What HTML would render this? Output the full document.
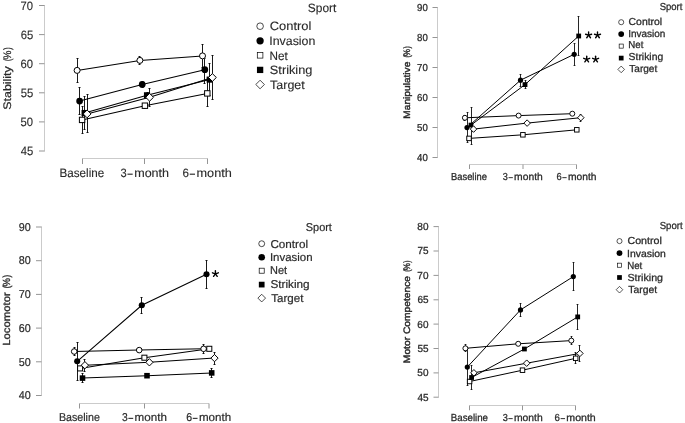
<!DOCTYPE html>
<html><head><meta charset="utf-8"><style>
html,body{margin:0;padding:0;background:#fff;}
svg{display:block;will-change:transform;}
text{font-family:"Liberation Sans", sans-serif;text-rendering:geometricPrecision;stroke:#2a2a2a;}
</style></head><body>
<svg width="685" height="423" viewBox="0 0 685 423">
<line x1="44.5" y1="5" x2="44.5" y2="151.5" stroke="#cbcbcb" stroke-width="1"/>
<line x1="39.0" y1="5.5" x2="44.5" y2="5.5" stroke="#959595" stroke-width="1"/>
<text x="20.62" y="10" font-size="12.1" textLength="12.52" lengthAdjust="spacingAndGlyphs" fill="#2a2a2a" stroke-width="0.12">70</text>
<line x1="39.0" y1="34.6" x2="44.5" y2="34.6" stroke="#959595" stroke-width="1"/>
<text x="20.66" y="39" font-size="12.1" textLength="12.51" lengthAdjust="spacingAndGlyphs" fill="#2a2a2a" stroke-width="0.12">65</text>
<line x1="39.0" y1="63.7" x2="44.5" y2="63.7" stroke="#959595" stroke-width="1"/>
<text x="20.62" y="68" font-size="12.1" textLength="12.52" lengthAdjust="spacingAndGlyphs" fill="#2a2a2a" stroke-width="0.12">60</text>
<line x1="39.0" y1="92.8" x2="44.5" y2="92.8" stroke="#959595" stroke-width="1"/>
<text x="20.65" y="97" font-size="12.1" textLength="12.52" lengthAdjust="spacingAndGlyphs" fill="#2a2a2a" stroke-width="0.12">55</text>
<line x1="39.0" y1="121.9" x2="44.5" y2="121.9" stroke="#959595" stroke-width="1"/>
<text x="20.61" y="126" font-size="12.1" textLength="12.53" lengthAdjust="spacingAndGlyphs" fill="#2a2a2a" stroke-width="0.12">50</text>
<line x1="39.0" y1="151.0" x2="44.5" y2="151.0" stroke="#959595" stroke-width="1"/>
<text x="20.63" y="155" font-size="12.1" textLength="12.54" lengthAdjust="spacingAndGlyphs" fill="#2a2a2a" stroke-width="0.12">45</text>
<line x1="82.5" y1="158.5" x2="207.5" y2="158.5" stroke="#cbcbcb" stroke-width="1"/>
<line x1="82.5" y1="158.5" x2="82.5" y2="164.0" stroke="#959595" stroke-width="1"/>
<line x1="144.5" y1="158.5" x2="144.5" y2="164.0" stroke="#959595" stroke-width="1"/>
<line x1="207.5" y1="158.5" x2="207.5" y2="164.0" stroke="#959595" stroke-width="1"/>
<text x="59.54" y="177" font-size="12.1" textLength="44.67" lengthAdjust="spacingAndGlyphs" fill="#2a2a2a" stroke-width="0.12">Baseline</text>
<text x="120.47" y="177" font-size="12.1" textLength="6.22" lengthAdjust="spacingAndGlyphs" fill="#2a2a2a" stroke-width="0.12">3</text>
<text x="134.16" y="177" font-size="12.1" textLength="34.95" lengthAdjust="spacingAndGlyphs" fill="#2a2a2a" stroke-width="0.12">month</text>
<rect x="127.46" y="173.62" width="5.22" height="1.15" fill="#2a2a2a"/>
<text x="182.51" y="177" font-size="12.1" textLength="6.46" lengthAdjust="spacingAndGlyphs" fill="#2a2a2a" stroke-width="0.12">6</text>
<text x="196.51" y="177" font-size="12.1" textLength="35.32" lengthAdjust="spacingAndGlyphs" fill="#2a2a2a" stroke-width="0.12">month</text>
<rect x="189.73" y="173.62" width="5.27" height="1.15" fill="#2a2a2a"/>
<text x="0" y="0" transform="translate(10.6,109.76) rotate(-90)" font-size="10.9" textLength="43.49" lengthAdjust="spacingAndGlyphs" fill="#2a2a2a" stroke-width="0.24">Stability</text>
<text x="0" y="0" transform="translate(10.6,61.32) rotate(-90)" font-size="10.9" textLength="2.81" lengthAdjust="spacingAndGlyphs" fill="#2a2a2a" stroke-width="0.24">(</text>
<text x="0" y="0" transform="translate(10.6,59.48) rotate(-90)" font-size="10.9" textLength="8.88" lengthAdjust="spacingAndGlyphs" fill="#2a2a2a" stroke-width="0.24">%</text>
<text x="0" y="0" transform="translate(10.6,49.89) rotate(-90)" font-size="10.9" textLength="2.81" lengthAdjust="spacingAndGlyphs" fill="#2a2a2a" stroke-width="0.24">)</text>
<text x="307.86" y="12" font-size="12.1" textLength="28.53" lengthAdjust="spacingAndGlyphs" fill="#2a2a2a" stroke-width="0.12">Sport</text>
<circle cx="260.1" cy="26.2" r="3.3" fill="#fff" stroke="#000" stroke-width="0.7"/>
<text x="269.74" y="30" font-size="12.1" textLength="41.62" lengthAdjust="spacingAndGlyphs" fill="#2a2a2a" stroke-width="0.12">Control</text>
<circle cx="260.1" cy="40.8" r="3.65" fill="#000"/>
<text x="269.26" y="45" font-size="12.1" textLength="46.15" lengthAdjust="spacingAndGlyphs" fill="#2a2a2a" stroke-width="0.12">Invasion</text>
<rect x="257.3" y="52.5" width="5.6" height="5.6" fill="#fff" stroke="#000" stroke-width="0.7"/>
<text x="269.44" y="60" font-size="12.1" textLength="18.25" lengthAdjust="spacingAndGlyphs" fill="#2a2a2a" stroke-width="0.12">Net</text>
<rect x="256.95" y="66.75" width="6.31" height="6.31" fill="#000"/>
<text x="269.82" y="74" font-size="12.1" textLength="42.6" lengthAdjust="spacingAndGlyphs" fill="#2a2a2a" stroke-width="0.12">Striking</text>
<polygon points="260.1,80.21 264.39,84.5 260.1,88.79 255.81,84.5" fill="#fff" stroke="#000" stroke-width="0.7"/>
<text x="270.13" y="89" font-size="12.1" textLength="34.66" lengthAdjust="spacingAndGlyphs" fill="#2a2a2a" stroke-width="0.12">Target</text>
<polyline points="77.1,70.4 139.9,60.4 202.5,55.9" fill="none" stroke="#000" stroke-width="1.05"/>
<polyline points="79.6,101.1 142.2,84.4 204.8,69.7" fill="none" stroke="#000" stroke-width="1.05"/>
<polyline points="82.1,119.9 144.9,105.7 207.3,93.4" fill="none" stroke="#000" stroke-width="1.05"/>
<polyline points="84.6,113.0 147.0,95.3 209.7,79.6" fill="none" stroke="#000" stroke-width="1.05"/>
<polyline points="87.1,113.9 149.6,97.3 212.4,77.5" fill="none" stroke="#000" stroke-width="1.05"/>
<line x1="77.5" y1="58.5" x2="77.5" y2="82.5" stroke="#000" stroke-width="0.9"/>
<line x1="76.5" y1="58.5" x2="78.5" y2="58.5" stroke="#000" stroke-width="0.9"/>
<line x1="76.5" y1="82.5" x2="78.5" y2="82.5" stroke="#000" stroke-width="0.9"/>
<line x1="139.5" y1="56.5" x2="139.5" y2="64.5" stroke="#000" stroke-width="0.9"/>
<line x1="138.5" y1="56.5" x2="140.5" y2="56.5" stroke="#000" stroke-width="0.9"/>
<line x1="138.5" y1="64.5" x2="140.5" y2="64.5" stroke="#000" stroke-width="0.9"/>
<line x1="202.5" y1="44.5" x2="202.5" y2="67.5" stroke="#000" stroke-width="0.9"/>
<line x1="201.5" y1="44.5" x2="203.5" y2="44.5" stroke="#000" stroke-width="0.9"/>
<line x1="201.5" y1="67.5" x2="203.5" y2="67.5" stroke="#000" stroke-width="0.9"/>
<line x1="79.5" y1="87.5" x2="79.5" y2="114.5" stroke="#000" stroke-width="0.9"/>
<line x1="78.5" y1="87.5" x2="80.5" y2="87.5" stroke="#000" stroke-width="0.9"/>
<line x1="78.5" y1="114.5" x2="80.5" y2="114.5" stroke="#000" stroke-width="0.9"/>
<line x1="142.5" y1="81.5" x2="142.5" y2="87.5" stroke="#000" stroke-width="0.9"/>
<line x1="141.5" y1="81.5" x2="143.5" y2="81.5" stroke="#000" stroke-width="0.9"/>
<line x1="141.5" y1="87.5" x2="143.5" y2="87.5" stroke="#000" stroke-width="0.9"/>
<line x1="204.5" y1="58.5" x2="204.5" y2="83.5" stroke="#000" stroke-width="0.9"/>
<line x1="203.5" y1="58.5" x2="205.5" y2="58.5" stroke="#000" stroke-width="0.9"/>
<line x1="203.5" y1="83.5" x2="205.5" y2="83.5" stroke="#000" stroke-width="0.9"/>
<line x1="82.5" y1="106.5" x2="82.5" y2="133.5" stroke="#000" stroke-width="0.9"/>
<line x1="81.5" y1="106.5" x2="83.5" y2="106.5" stroke="#000" stroke-width="0.9"/>
<line x1="81.5" y1="133.5" x2="83.5" y2="133.5" stroke="#000" stroke-width="0.9"/>
<line x1="144.5" y1="103.5" x2="144.5" y2="108.5" stroke="#000" stroke-width="0.9"/>
<line x1="143.5" y1="103.5" x2="145.5" y2="103.5" stroke="#000" stroke-width="0.9"/>
<line x1="143.5" y1="108.5" x2="145.5" y2="108.5" stroke="#000" stroke-width="0.9"/>
<line x1="207.5" y1="80.5" x2="207.5" y2="106.5" stroke="#000" stroke-width="0.9"/>
<line x1="206.5" y1="80.5" x2="208.5" y2="80.5" stroke="#000" stroke-width="0.9"/>
<line x1="206.5" y1="106.5" x2="208.5" y2="106.5" stroke="#000" stroke-width="0.9"/>
<line x1="84.5" y1="96.5" x2="84.5" y2="129.5" stroke="#000" stroke-width="0.9"/>
<line x1="83.5" y1="96.5" x2="85.5" y2="96.5" stroke="#000" stroke-width="0.9"/>
<line x1="83.5" y1="129.5" x2="85.5" y2="129.5" stroke="#000" stroke-width="0.9"/>
<line x1="147.5" y1="92.5" x2="147.5" y2="97.5" stroke="#000" stroke-width="0.9"/>
<line x1="146.5" y1="92.5" x2="148.5" y2="92.5" stroke="#000" stroke-width="0.9"/>
<line x1="146.5" y1="97.5" x2="148.5" y2="97.5" stroke="#000" stroke-width="0.9"/>
<line x1="209.5" y1="63.5" x2="209.5" y2="95.5" stroke="#000" stroke-width="0.9"/>
<line x1="208.5" y1="63.5" x2="210.5" y2="63.5" stroke="#000" stroke-width="0.9"/>
<line x1="208.5" y1="95.5" x2="210.5" y2="95.5" stroke="#000" stroke-width="0.9"/>
<line x1="87.5" y1="94.5" x2="87.5" y2="132.5" stroke="#000" stroke-width="0.9"/>
<line x1="86.5" y1="94.5" x2="88.5" y2="94.5" stroke="#000" stroke-width="0.9"/>
<line x1="86.5" y1="132.5" x2="88.5" y2="132.5" stroke="#000" stroke-width="0.9"/>
<line x1="149.5" y1="88.5" x2="149.5" y2="106.5" stroke="#000" stroke-width="0.9"/>
<line x1="148.5" y1="88.5" x2="150.5" y2="88.5" stroke="#000" stroke-width="0.9"/>
<line x1="148.5" y1="106.5" x2="150.5" y2="106.5" stroke="#000" stroke-width="0.9"/>
<line x1="212.5" y1="55.5" x2="212.5" y2="99.5" stroke="#000" stroke-width="0.9"/>
<line x1="211.5" y1="55.5" x2="213.5" y2="55.5" stroke="#000" stroke-width="0.9"/>
<line x1="211.5" y1="99.5" x2="213.5" y2="99.5" stroke="#000" stroke-width="0.9"/>
<circle cx="77.1" cy="70.4" r="3.0" fill="#fff" stroke="#000" stroke-width="1.0"/>
<circle cx="139.9" cy="60.4" r="3.0" fill="#fff" stroke="#000" stroke-width="1.0"/>
<circle cx="202.5" cy="55.9" r="3.0" fill="#fff" stroke="#000" stroke-width="1.0"/>
<circle cx="79.6" cy="101.1" r="3.35" fill="#000"/>
<circle cx="142.2" cy="84.4" r="3.35" fill="#000"/>
<circle cx="204.8" cy="69.7" r="3.35" fill="#000"/>
<rect x="79.4" y="117.2" width="5.4" height="5.4" fill="#fff" stroke="#000" stroke-width="1.0"/>
<rect x="142.2" y="103.0" width="5.4" height="5.4" fill="#fff" stroke="#000" stroke-width="1.0"/>
<rect x="204.6" y="90.7" width="5.4" height="5.4" fill="#fff" stroke="#000" stroke-width="1.0"/>
<rect x="81.54" y="109.94" width="6.12" height="6.12" fill="#000"/>
<rect x="143.94" y="92.24" width="6.12" height="6.12" fill="#000"/>
<rect x="206.64" y="76.54" width="6.12" height="6.12" fill="#000"/>
<polygon points="87.1,110.0 91.0,113.9 87.1,117.8 83.2,113.9" fill="#fff" stroke="#000" stroke-width="1.0"/>
<polygon points="149.6,93.4 153.5,97.3 149.6,101.2 145.7,97.3" fill="#fff" stroke="#000" stroke-width="1.0"/>
<polygon points="212.4,73.6 216.3,77.5 212.4,81.4 208.5,77.5" fill="#fff" stroke="#000" stroke-width="1.0"/>
<line x1="437.5" y1="7" x2="437.5" y2="157.9" stroke="#cbcbcb" stroke-width="1"/>
<line x1="432.5" y1="7.5" x2="437.5" y2="7.5" stroke="#959595" stroke-width="1"/>
<text x="417.1" y="11" font-size="10.1" textLength="10.67" lengthAdjust="spacingAndGlyphs" fill="#2a2a2a" stroke-width="0.28">90</text>
<line x1="432.5" y1="37.5" x2="437.5" y2="37.5" stroke="#959595" stroke-width="1"/>
<text x="417.09" y="41" font-size="10.1" textLength="10.68" lengthAdjust="spacingAndGlyphs" fill="#2a2a2a" stroke-width="0.28">80</text>
<line x1="432.5" y1="67.5" x2="437.5" y2="67.5" stroke="#959595" stroke-width="1"/>
<text x="417.11" y="71" font-size="10.1" textLength="10.67" lengthAdjust="spacingAndGlyphs" fill="#2a2a2a" stroke-width="0.28">70</text>
<line x1="432.5" y1="97.5" x2="437.5" y2="97.5" stroke="#959595" stroke-width="1"/>
<text x="417.1" y="101" font-size="10.1" textLength="10.67" lengthAdjust="spacingAndGlyphs" fill="#2a2a2a" stroke-width="0.28">60</text>
<line x1="432.5" y1="127.5" x2="437.5" y2="127.5" stroke="#959595" stroke-width="1"/>
<text x="417.1" y="131" font-size="10.1" textLength="10.68" lengthAdjust="spacingAndGlyphs" fill="#2a2a2a" stroke-width="0.28">50</text>
<line x1="432.5" y1="157.5" x2="437.5" y2="157.5" stroke="#959595" stroke-width="1"/>
<text x="417.08" y="161" font-size="10.1" textLength="10.7" lengthAdjust="spacingAndGlyphs" fill="#2a2a2a" stroke-width="0.28">40</text>
<line x1="469.5" y1="164.5" x2="576.5" y2="164.5" stroke="#cbcbcb" stroke-width="1"/>
<line x1="469.5" y1="164.5" x2="469.5" y2="169.0" stroke="#959595" stroke-width="1"/>
<line x1="523" y1="164.5" x2="523" y2="169.0" stroke="#959595" stroke-width="1"/>
<line x1="576.5" y1="164.5" x2="576.5" y2="169.0" stroke="#959595" stroke-width="1"/>
<text x="451.03" y="180" font-size="10.1" textLength="35.88" lengthAdjust="spacingAndGlyphs" fill="#2a2a2a" stroke-width="0.28">Baseline</text>
<text x="502.85" y="180" font-size="10.1" textLength="5.07" lengthAdjust="spacingAndGlyphs" fill="#2a2a2a" stroke-width="0.28">3</text>
<text x="514.14" y="180" font-size="10.1" textLength="28.63" lengthAdjust="spacingAndGlyphs" fill="#2a2a2a" stroke-width="0.28">month</text>
<rect x="508.55" y="177.18" width="4.3" height="0.96" fill="#2a2a2a"/>
<text x="556.53" y="180" font-size="10.1" textLength="5.19" lengthAdjust="spacingAndGlyphs" fill="#2a2a2a" stroke-width="0.28">6</text>
<text x="567.91" y="180" font-size="10.1" textLength="28.56" lengthAdjust="spacingAndGlyphs" fill="#2a2a2a" stroke-width="0.28">month</text>
<rect x="562.34" y="177.18" width="4.29" height="0.96" fill="#2a2a2a"/>
<text x="0" y="0" transform="translate(409.6,118.63) rotate(-90)" font-size="9.4" textLength="56.98" lengthAdjust="spacingAndGlyphs" fill="#2a2a2a" stroke-width="0.4">Manipulative</text>
<text x="0" y="0" transform="translate(409.6,57.51) rotate(-90)" font-size="9.4" textLength="2.2" lengthAdjust="spacingAndGlyphs" fill="#2a2a2a" stroke-width="0.4">(</text>
<text x="0" y="0" transform="translate(409.6,56.07) rotate(-90)" font-size="9.4" textLength="6.93" lengthAdjust="spacingAndGlyphs" fill="#2a2a2a" stroke-width="0.4">%</text>
<text x="0" y="0" transform="translate(409.6,48.59) rotate(-90)" font-size="9.4" textLength="2.2" lengthAdjust="spacingAndGlyphs" fill="#2a2a2a" stroke-width="0.4">)</text>
<text x="659.67" y="10" font-size="10.1" textLength="22.8" lengthAdjust="spacingAndGlyphs" fill="#2a2a2a" stroke-width="0.28">Sport</text>
<circle cx="621.2" cy="22.2" r="2.55" fill="#fff" stroke="#000" stroke-width="0.65"/>
<text x="628.57" y="25" font-size="10.1" textLength="33.63" lengthAdjust="spacingAndGlyphs" fill="#2a2a2a" stroke-width="0.28">Control</text>
<circle cx="621.2" cy="34.1" r="2.88" fill="#000"/>
<text x="628.18" y="37" font-size="10.1" textLength="37.17" lengthAdjust="spacingAndGlyphs" fill="#2a2a2a" stroke-width="0.28">Invasion</text>
<rect x="619.16" y="44.06" width="4.08" height="4.08" fill="#fff" stroke="#000" stroke-width="0.65"/>
<text x="628.31" y="48" font-size="10.1" textLength="15.07" lengthAdjust="spacingAndGlyphs" fill="#2a2a2a" stroke-width="0.28">Net</text>
<rect x="618.84" y="55.73" width="4.73" height="4.73" fill="#000"/>
<text x="628.63" y="60" font-size="10.1" textLength="34.54" lengthAdjust="spacingAndGlyphs" fill="#2a2a2a" stroke-width="0.28">Striking</text>
<polygon points="621.2,66.09 624.51,69.4 621.2,72.71 617.89,69.4" fill="#fff" stroke="#000" stroke-width="0.65"/>
<text x="629.28" y="72" font-size="10.1" textLength="27.99" lengthAdjust="spacingAndGlyphs" fill="#2a2a2a" stroke-width="0.28">Target</text>
<polyline points="464.9,117.8 518.6,115.6 572.3,113.7" fill="none" stroke="#000" stroke-width="1.0"/>
<polyline points="467.0,127.6 520.5,80.2 574.2,54.3" fill="none" stroke="#000" stroke-width="1.0"/>
<polyline points="469.0,138.4 522.9,134.8 576.8,129.8" fill="none" stroke="#000" stroke-width="1.0"/>
<polyline points="471.0,125.1 525.0,84.6 578.7,36.0" fill="none" stroke="#000" stroke-width="1.0"/>
<polyline points="473.5,129.1 527.1,123.1 580.8,117.7" fill="none" stroke="#000" stroke-width="1.0"/>
<line x1="464.5" y1="115.5" x2="464.5" y2="120.5" stroke="#000" stroke-width="0.85"/>
<line x1="463.6" y1="115.5" x2="465.4" y2="115.5" stroke="#000" stroke-width="0.85"/>
<line x1="463.6" y1="120.5" x2="465.4" y2="120.5" stroke="#000" stroke-width="0.85"/>
<line x1="467.5" y1="112.5" x2="467.5" y2="142.5" stroke="#000" stroke-width="0.85"/>
<line x1="466.6" y1="112.5" x2="468.4" y2="112.5" stroke="#000" stroke-width="0.85"/>
<line x1="466.6" y1="142.5" x2="468.4" y2="142.5" stroke="#000" stroke-width="0.85"/>
<line x1="520.5" y1="74.5" x2="520.5" y2="86.5" stroke="#000" stroke-width="0.85"/>
<line x1="519.6" y1="74.5" x2="521.4" y2="74.5" stroke="#000" stroke-width="0.85"/>
<line x1="519.6" y1="86.5" x2="521.4" y2="86.5" stroke="#000" stroke-width="0.85"/>
<line x1="574.5" y1="43.5" x2="574.5" y2="65.5" stroke="#000" stroke-width="0.85"/>
<line x1="573.6" y1="43.5" x2="575.4" y2="43.5" stroke="#000" stroke-width="0.85"/>
<line x1="573.6" y1="65.5" x2="575.4" y2="65.5" stroke="#000" stroke-width="0.85"/>
<line x1="471.5" y1="107.5" x2="471.5" y2="144.5" stroke="#000" stroke-width="0.85"/>
<line x1="470.6" y1="107.5" x2="472.4" y2="107.5" stroke="#000" stroke-width="0.85"/>
<line x1="470.6" y1="144.5" x2="472.4" y2="144.5" stroke="#000" stroke-width="0.85"/>
<line x1="525.5" y1="80.5" x2="525.5" y2="88.5" stroke="#000" stroke-width="0.85"/>
<line x1="524.6" y1="80.5" x2="526.4" y2="80.5" stroke="#000" stroke-width="0.85"/>
<line x1="524.6" y1="88.5" x2="526.4" y2="88.5" stroke="#000" stroke-width="0.85"/>
<line x1="578.5" y1="16.5" x2="578.5" y2="55.5" stroke="#000" stroke-width="0.85"/>
<line x1="577.6" y1="16.5" x2="579.4" y2="16.5" stroke="#000" stroke-width="0.85"/>
<line x1="577.6" y1="55.5" x2="579.4" y2="55.5" stroke="#000" stroke-width="0.85"/>
<line x1="473.5" y1="126.5" x2="473.5" y2="131.5" stroke="#000" stroke-width="0.85"/>
<line x1="472.6" y1="126.5" x2="474.4" y2="126.5" stroke="#000" stroke-width="0.85"/>
<line x1="472.6" y1="131.5" x2="474.4" y2="131.5" stroke="#000" stroke-width="0.85"/>
<line x1="580.5" y1="114.5" x2="580.5" y2="121.5" stroke="#000" stroke-width="0.85"/>
<line x1="579.6" y1="114.5" x2="581.4" y2="114.5" stroke="#000" stroke-width="0.85"/>
<line x1="579.6" y1="121.5" x2="581.4" y2="121.5" stroke="#000" stroke-width="0.85"/>
<circle cx="464.9" cy="117.8" r="2.5" fill="#fff" stroke="#000" stroke-width="0.95"/>
<circle cx="518.6" cy="115.6" r="2.5" fill="#fff" stroke="#000" stroke-width="0.95"/>
<circle cx="572.3" cy="113.7" r="2.5" fill="#fff" stroke="#000" stroke-width="0.95"/>
<circle cx="467.0" cy="127.6" r="2.6" fill="#000"/>
<circle cx="520.5" cy="80.2" r="2.6" fill="#000"/>
<circle cx="574.2" cy="54.3" r="2.6" fill="#000"/>
<rect x="466.75" y="136.15" width="4.5" height="4.5" fill="#fff" stroke="#000" stroke-width="0.95"/>
<rect x="520.65" y="132.55" width="4.5" height="4.5" fill="#fff" stroke="#000" stroke-width="0.95"/>
<rect x="574.55" y="127.55" width="4.5" height="4.5" fill="#fff" stroke="#000" stroke-width="0.95"/>
<rect x="468.6" y="122.7" width="4.8" height="4.8" fill="#000"/>
<rect x="522.6" y="82.2" width="4.8" height="4.8" fill="#000"/>
<rect x="576.3" y="33.6" width="4.8" height="4.8" fill="#000"/>
<polygon points="473.5,125.85 476.75,129.1 473.5,132.35 470.25,129.1" fill="#fff" stroke="#000" stroke-width="0.95"/>
<polygon points="527.1,119.85 530.35,123.1 527.1,126.35 523.85,123.1" fill="#fff" stroke="#000" stroke-width="0.95"/>
<polygon points="580.8,114.45 584.05,117.7 580.8,120.95 577.55,117.7" fill="#fff" stroke="#000" stroke-width="0.95"/>
<line x1="588.6" y1="35.2" x2="588.6" y2="32.05" stroke="#000" stroke-width="1.4" stroke-linecap="round"/>
<line x1="588.6" y1="35.2" x2="591.6" y2="34.23" stroke="#000" stroke-width="1.4" stroke-linecap="round"/>
<line x1="588.6" y1="35.2" x2="590.45" y2="37.75" stroke="#000" stroke-width="1.4" stroke-linecap="round"/>
<line x1="588.6" y1="35.2" x2="586.75" y2="37.75" stroke="#000" stroke-width="1.4" stroke-linecap="round"/>
<line x1="588.6" y1="35.2" x2="585.6" y2="34.23" stroke="#000" stroke-width="1.4" stroke-linecap="round"/>
<line x1="597.5" y1="35.2" x2="597.5" y2="32.05" stroke="#000" stroke-width="1.4" stroke-linecap="round"/>
<line x1="597.5" y1="35.2" x2="600.5" y2="34.23" stroke="#000" stroke-width="1.4" stroke-linecap="round"/>
<line x1="597.5" y1="35.2" x2="599.35" y2="37.75" stroke="#000" stroke-width="1.4" stroke-linecap="round"/>
<line x1="597.5" y1="35.2" x2="595.65" y2="37.75" stroke="#000" stroke-width="1.4" stroke-linecap="round"/>
<line x1="597.5" y1="35.2" x2="594.5" y2="34.23" stroke="#000" stroke-width="1.4" stroke-linecap="round"/>
<line x1="586.7" y1="59.3" x2="586.7" y2="56.15" stroke="#000" stroke-width="1.4" stroke-linecap="round"/>
<line x1="586.7" y1="59.3" x2="589.7" y2="58.33" stroke="#000" stroke-width="1.4" stroke-linecap="round"/>
<line x1="586.7" y1="59.3" x2="588.55" y2="61.85" stroke="#000" stroke-width="1.4" stroke-linecap="round"/>
<line x1="586.7" y1="59.3" x2="584.85" y2="61.85" stroke="#000" stroke-width="1.4" stroke-linecap="round"/>
<line x1="586.7" y1="59.3" x2="583.7" y2="58.33" stroke="#000" stroke-width="1.4" stroke-linecap="round"/>
<line x1="595.6" y1="59.3" x2="595.6" y2="56.15" stroke="#000" stroke-width="1.4" stroke-linecap="round"/>
<line x1="595.6" y1="59.3" x2="598.6" y2="58.33" stroke="#000" stroke-width="1.4" stroke-linecap="round"/>
<line x1="595.6" y1="59.3" x2="597.45" y2="61.85" stroke="#000" stroke-width="1.4" stroke-linecap="round"/>
<line x1="595.6" y1="59.3" x2="593.75" y2="61.85" stroke="#000" stroke-width="1.4" stroke-linecap="round"/>
<line x1="595.6" y1="59.3" x2="592.6" y2="58.33" stroke="#000" stroke-width="1.4" stroke-linecap="round"/>
<line x1="41.5" y1="226.5" x2="41.5" y2="395.8" stroke="#cbcbcb" stroke-width="1"/>
<line x1="36.0" y1="227.0" x2="41.5" y2="227.0" stroke="#959595" stroke-width="1"/>
<text x="18.75" y="231" font-size="11.4" textLength="11.98" lengthAdjust="spacingAndGlyphs" fill="#2a2a2a" stroke-width="0.2">90</text>
<line x1="36.0" y1="260.7" x2="41.5" y2="260.7" stroke="#959595" stroke-width="1"/>
<text x="18.74" y="264" font-size="11.4" textLength="11.98" lengthAdjust="spacingAndGlyphs" fill="#2a2a2a" stroke-width="0.2">80</text>
<line x1="36.0" y1="294.4" x2="41.5" y2="294.4" stroke="#959595" stroke-width="1"/>
<text x="18.75" y="298" font-size="11.4" textLength="11.97" lengthAdjust="spacingAndGlyphs" fill="#2a2a2a" stroke-width="0.2">70</text>
<line x1="36.0" y1="328.1" x2="41.5" y2="328.1" stroke="#959595" stroke-width="1"/>
<text x="18.74" y="332" font-size="11.4" textLength="11.98" lengthAdjust="spacingAndGlyphs" fill="#2a2a2a" stroke-width="0.2">60</text>
<line x1="36.0" y1="361.8" x2="41.5" y2="361.8" stroke="#959595" stroke-width="1"/>
<text x="18.74" y="366" font-size="11.4" textLength="11.98" lengthAdjust="spacingAndGlyphs" fill="#2a2a2a" stroke-width="0.2">50</text>
<line x1="36.0" y1="395.5" x2="41.5" y2="395.5" stroke="#959595" stroke-width="1"/>
<text x="18.72" y="399" font-size="11.4" textLength="12.0" lengthAdjust="spacingAndGlyphs" fill="#2a2a2a" stroke-width="0.2">40</text>
<line x1="79.5" y1="403.5" x2="209" y2="403.5" stroke="#cbcbcb" stroke-width="1"/>
<line x1="79.5" y1="403.5" x2="79.5" y2="408.5" stroke="#959595" stroke-width="1"/>
<line x1="144.5" y1="403.5" x2="144.5" y2="408.5" stroke="#959595" stroke-width="1"/>
<line x1="209" y1="403.5" x2="209" y2="408.5" stroke="#959595" stroke-width="1"/>
<text x="58.92" y="421" font-size="11.4" textLength="40.95" lengthAdjust="spacingAndGlyphs" fill="#2a2a2a" stroke-width="0.2">Baseline</text>
<text x="121.91" y="421" font-size="11.4" textLength="5.74" lengthAdjust="spacingAndGlyphs" fill="#2a2a2a" stroke-width="0.2">3</text>
<text x="134.58" y="421" font-size="11.4" textLength="32.28" lengthAdjust="spacingAndGlyphs" fill="#2a2a2a" stroke-width="0.2">month</text>
<rect x="128.35" y="417.82" width="4.83" height="1.08" fill="#2a2a2a"/>
<text x="186.16" y="421" font-size="11.4" textLength="5.87" lengthAdjust="spacingAndGlyphs" fill="#2a2a2a" stroke-width="0.2">6</text>
<text x="198.95" y="421" font-size="11.4" textLength="32.2" lengthAdjust="spacingAndGlyphs" fill="#2a2a2a" stroke-width="0.2">month</text>
<rect x="192.73" y="417.82" width="4.82" height="1.08" fill="#2a2a2a"/>
<text x="0" y="0" transform="translate(10.2,345.73) rotate(-90)" font-size="10.3" textLength="53.42" lengthAdjust="spacingAndGlyphs" fill="#2a2a2a" stroke-width="0.32">Locomotor</text>
<text x="0" y="0" transform="translate(10.2,288.29) rotate(-90)" font-size="10.3" textLength="2.65" lengthAdjust="spacingAndGlyphs" fill="#2a2a2a" stroke-width="0.32">(</text>
<text x="0" y="0" transform="translate(10.2,286.56) rotate(-90)" font-size="10.3" textLength="8.35" lengthAdjust="spacingAndGlyphs" fill="#2a2a2a" stroke-width="0.32">%</text>
<text x="0" y="0" transform="translate(10.2,277.56) rotate(-90)" font-size="10.3" textLength="2.65" lengthAdjust="spacingAndGlyphs" fill="#2a2a2a" stroke-width="0.32">)</text>
<text x="305.8" y="231" font-size="11.4" textLength="26.08" lengthAdjust="spacingAndGlyphs" fill="#2a2a2a" stroke-width="0.2">Sport</text>
<circle cx="261.7" cy="243.7" r="2.95" fill="#fff" stroke="#000" stroke-width="0.7"/>
<text x="270.41" y="248" font-size="11.4" textLength="37.68" lengthAdjust="spacingAndGlyphs" fill="#2a2a2a" stroke-width="0.2">Control</text>
<circle cx="261.7" cy="257.2" r="3.3" fill="#000"/>
<text x="269.94" y="261" font-size="11.4" textLength="42.6" lengthAdjust="spacingAndGlyphs" fill="#2a2a2a" stroke-width="0.2">Invasion</text>
<rect x="259.19" y="268.19" width="5.02" height="5.02" fill="#fff" stroke="#000" stroke-width="0.7"/>
<text x="270.1" y="274" font-size="11.4" textLength="17.08" lengthAdjust="spacingAndGlyphs" fill="#2a2a2a" stroke-width="0.2">Net</text>
<rect x="258.84" y="281.74" width="5.72" height="5.72" fill="#000"/>
<text x="270.47" y="288" font-size="11.4" textLength="39.19" lengthAdjust="spacingAndGlyphs" fill="#2a2a2a" stroke-width="0.2">Striking</text>
<polygon points="261.7,294.26 265.54,298.1 261.7,301.94 257.86,298.1" fill="#fff" stroke="#000" stroke-width="0.7"/>
<text x="271.25" y="302" font-size="11.4" textLength="32.13" lengthAdjust="spacingAndGlyphs" fill="#2a2a2a" stroke-width="0.2">Target</text>
<polyline points="74.2,351.5 139.2,350.1 203.6,348.8" fill="none" stroke="#000" stroke-width="1.05"/>
<polyline points="77.2,361.3 141.8,305.3 206.5,274.2" fill="none" stroke="#000" stroke-width="1.05"/>
<polyline points="80.1,368.4 144.4,357.7 209.3,348.8" fill="none" stroke="#000" stroke-width="1.05"/>
<polyline points="82.5,378.1 147.0,375.7 211.7,372.9" fill="none" stroke="#000" stroke-width="1.05"/>
<polyline points="84.9,365.2 149.4,362.3 214.5,358.1" fill="none" stroke="#000" stroke-width="1.05"/>
<line x1="74.5" y1="347.5" x2="74.5" y2="355.5" stroke="#000" stroke-width="0.9"/>
<line x1="73.5" y1="347.5" x2="75.5" y2="347.5" stroke="#000" stroke-width="0.9"/>
<line x1="73.5" y1="355.5" x2="75.5" y2="355.5" stroke="#000" stroke-width="0.9"/>
<line x1="203.5" y1="344.5" x2="203.5" y2="353.5" stroke="#000" stroke-width="0.9"/>
<line x1="202.5" y1="344.5" x2="204.5" y2="344.5" stroke="#000" stroke-width="0.9"/>
<line x1="202.5" y1="353.5" x2="204.5" y2="353.5" stroke="#000" stroke-width="0.9"/>
<line x1="77.5" y1="342.5" x2="77.5" y2="380.5" stroke="#000" stroke-width="0.9"/>
<line x1="76.5" y1="342.5" x2="78.5" y2="342.5" stroke="#000" stroke-width="0.9"/>
<line x1="76.5" y1="380.5" x2="78.5" y2="380.5" stroke="#000" stroke-width="0.9"/>
<line x1="141.5" y1="297.5" x2="141.5" y2="313.5" stroke="#000" stroke-width="0.9"/>
<line x1="140.5" y1="297.5" x2="142.5" y2="297.5" stroke="#000" stroke-width="0.9"/>
<line x1="140.5" y1="313.5" x2="142.5" y2="313.5" stroke="#000" stroke-width="0.9"/>
<line x1="206.5" y1="260.5" x2="206.5" y2="288.5" stroke="#000" stroke-width="0.9"/>
<line x1="205.5" y1="260.5" x2="207.5" y2="260.5" stroke="#000" stroke-width="0.9"/>
<line x1="205.5" y1="288.5" x2="207.5" y2="288.5" stroke="#000" stroke-width="0.9"/>
<line x1="82.5" y1="373.5" x2="82.5" y2="382.5" stroke="#000" stroke-width="0.9"/>
<line x1="81.5" y1="373.5" x2="83.5" y2="373.5" stroke="#000" stroke-width="0.9"/>
<line x1="81.5" y1="382.5" x2="83.5" y2="382.5" stroke="#000" stroke-width="0.9"/>
<line x1="211.5" y1="368.5" x2="211.5" y2="377.5" stroke="#000" stroke-width="0.9"/>
<line x1="210.5" y1="368.5" x2="212.5" y2="368.5" stroke="#000" stroke-width="0.9"/>
<line x1="210.5" y1="377.5" x2="212.5" y2="377.5" stroke="#000" stroke-width="0.9"/>
<line x1="84.5" y1="359.5" x2="84.5" y2="371.5" stroke="#000" stroke-width="0.9"/>
<line x1="83.5" y1="359.5" x2="85.5" y2="359.5" stroke="#000" stroke-width="0.9"/>
<line x1="83.5" y1="371.5" x2="85.5" y2="371.5" stroke="#000" stroke-width="0.9"/>
<line x1="214.5" y1="352.5" x2="214.5" y2="364.5" stroke="#000" stroke-width="0.9"/>
<line x1="213.5" y1="352.5" x2="215.5" y2="352.5" stroke="#000" stroke-width="0.9"/>
<line x1="213.5" y1="364.5" x2="215.5" y2="364.5" stroke="#000" stroke-width="0.9"/>
<circle cx="74.2" cy="351.5" r="2.8" fill="#fff" stroke="#000" stroke-width="1.0"/>
<circle cx="139.2" cy="350.1" r="2.8" fill="#fff" stroke="#000" stroke-width="1.0"/>
<circle cx="203.6" cy="348.8" r="2.8" fill="#fff" stroke="#000" stroke-width="1.0"/>
<circle cx="77.2" cy="361.3" r="3.05" fill="#000"/>
<circle cx="141.8" cy="305.3" r="3.05" fill="#000"/>
<circle cx="206.5" cy="274.2" r="3.05" fill="#000"/>
<rect x="77.58" y="365.88" width="5.04" height="5.04" fill="#fff" stroke="#000" stroke-width="1.0"/>
<rect x="141.88" y="355.18" width="5.04" height="5.04" fill="#fff" stroke="#000" stroke-width="1.0"/>
<rect x="206.78" y="346.28" width="5.04" height="5.04" fill="#fff" stroke="#000" stroke-width="1.0"/>
<rect x="79.72" y="375.32" width="5.56" height="5.56" fill="#000"/>
<rect x="144.22" y="372.92" width="5.56" height="5.56" fill="#000"/>
<rect x="208.92" y="370.12" width="5.56" height="5.56" fill="#000"/>
<polygon points="84.9,361.56 88.54,365.2 84.9,368.84 81.26,365.2" fill="#fff" stroke="#000" stroke-width="1.0"/>
<polygon points="149.4,358.66 153.04,362.3 149.4,365.94 145.76,362.3" fill="#fff" stroke="#000" stroke-width="1.0"/>
<polygon points="214.5,354.46 218.14,358.1 214.5,361.74 210.86,358.1" fill="#fff" stroke="#000" stroke-width="1.0"/>
<line x1="215.4" y1="273.8" x2="215.4" y2="270.7" stroke="#000" stroke-width="1.4" stroke-linecap="round"/>
<line x1="215.4" y1="273.8" x2="218.35" y2="272.84" stroke="#000" stroke-width="1.4" stroke-linecap="round"/>
<line x1="215.4" y1="273.8" x2="217.22" y2="276.31" stroke="#000" stroke-width="1.4" stroke-linecap="round"/>
<line x1="215.4" y1="273.8" x2="213.58" y2="276.31" stroke="#000" stroke-width="1.4" stroke-linecap="round"/>
<line x1="215.4" y1="273.8" x2="212.45" y2="272.84" stroke="#000" stroke-width="1.4" stroke-linecap="round"/>
<line x1="438.5" y1="226" x2="438.5" y2="397.7" stroke="#cbcbcb" stroke-width="1"/>
<line x1="433.5" y1="226.6" x2="438.5" y2="226.6" stroke="#959595" stroke-width="1"/>
<text x="417.37" y="230" font-size="10.2" textLength="11.13" lengthAdjust="spacingAndGlyphs" fill="#2a2a2a" stroke-width="0.28">80</text>
<line x1="433.5" y1="251.0" x2="438.5" y2="251.0" stroke="#959595" stroke-width="1"/>
<text x="417.41" y="254" font-size="10.2" textLength="11.11" lengthAdjust="spacingAndGlyphs" fill="#2a2a2a" stroke-width="0.28">75</text>
<line x1="433.5" y1="275.4" x2="438.5" y2="275.4" stroke="#959595" stroke-width="1"/>
<text x="417.37" y="279" font-size="10.2" textLength="11.12" lengthAdjust="spacingAndGlyphs" fill="#2a2a2a" stroke-width="0.28">70</text>
<line x1="433.5" y1="299.8" x2="438.5" y2="299.8" stroke="#959595" stroke-width="1"/>
<text x="417.4" y="303" font-size="10.2" textLength="11.12" lengthAdjust="spacingAndGlyphs" fill="#2a2a2a" stroke-width="0.28">65</text>
<line x1="433.5" y1="324.1" x2="438.5" y2="324.1" stroke="#959595" stroke-width="1"/>
<text x="417.37" y="328" font-size="10.2" textLength="11.12" lengthAdjust="spacingAndGlyphs" fill="#2a2a2a" stroke-width="0.28">60</text>
<line x1="433.5" y1="348.5" x2="438.5" y2="348.5" stroke="#959595" stroke-width="1"/>
<text x="417.39" y="352" font-size="10.2" textLength="11.13" lengthAdjust="spacingAndGlyphs" fill="#2a2a2a" stroke-width="0.28">55</text>
<line x1="433.5" y1="372.9" x2="438.5" y2="372.9" stroke="#959595" stroke-width="1"/>
<text x="417.36" y="376" font-size="10.2" textLength="11.13" lengthAdjust="spacingAndGlyphs" fill="#2a2a2a" stroke-width="0.28">50</text>
<line x1="433.5" y1="397.2" x2="438.5" y2="397.2" stroke="#959595" stroke-width="1"/>
<text x="417.38" y="401" font-size="10.2" textLength="11.14" lengthAdjust="spacingAndGlyphs" fill="#2a2a2a" stroke-width="0.28">45</text>
<line x1="469.5" y1="405.5" x2="575.5" y2="405.5" stroke="#cbcbcb" stroke-width="1"/>
<line x1="469.5" y1="405.5" x2="469.5" y2="410.3" stroke="#959595" stroke-width="1"/>
<line x1="522.5" y1="405.5" x2="522.5" y2="410.3" stroke="#959595" stroke-width="1"/>
<line x1="575.5" y1="405.5" x2="575.5" y2="410.3" stroke="#959595" stroke-width="1"/>
<text x="450.8" y="421" font-size="10.2" textLength="37.23" lengthAdjust="spacingAndGlyphs" fill="#2a2a2a" stroke-width="0.28">Baseline</text>
<text x="502.65" y="421" font-size="10.2" textLength="5.09" lengthAdjust="spacingAndGlyphs" fill="#2a2a2a" stroke-width="0.28">3</text>
<text x="513.99" y="421" font-size="10.2" textLength="28.78" lengthAdjust="spacingAndGlyphs" fill="#2a2a2a" stroke-width="0.28">month</text>
<rect x="508.38" y="418.15" width="4.32" height="0.97" fill="#2a2a2a"/>
<text x="554.61" y="421" font-size="10.2" textLength="5.35" lengthAdjust="spacingAndGlyphs" fill="#2a2a2a" stroke-width="0.28">6</text>
<text x="566.34" y="421" font-size="10.2" textLength="29.45" lengthAdjust="spacingAndGlyphs" fill="#2a2a2a" stroke-width="0.28">month</text>
<rect x="560.61" y="418.15" width="4.42" height="0.97" fill="#2a2a2a"/>
<text x="0" y="0" transform="translate(409.8,363.14) rotate(-90)" font-size="9.4" textLength="87.1" lengthAdjust="spacingAndGlyphs" fill="#2a2a2a" stroke-width="0.4">Motor Competence</text>
<text x="0" y="0" transform="translate(409.8,271.82) rotate(-90)" font-size="9.4" textLength="2.26" lengthAdjust="spacingAndGlyphs" fill="#2a2a2a" stroke-width="0.4">(</text>
<text x="0" y="0" transform="translate(409.8,270.34) rotate(-90)" font-size="9.4" textLength="7.13" lengthAdjust="spacingAndGlyphs" fill="#2a2a2a" stroke-width="0.4">%</text>
<text x="0" y="0" transform="translate(409.8,262.64) rotate(-90)" font-size="9.4" textLength="2.26" lengthAdjust="spacingAndGlyphs" fill="#2a2a2a" stroke-width="0.4">)</text>
<text x="659.66" y="229" font-size="10.2" textLength="23.01" lengthAdjust="spacingAndGlyphs" fill="#2a2a2a" stroke-width="0.28">Sport</text>
<circle cx="619.5" cy="241.1" r="2.55" fill="#fff" stroke="#000" stroke-width="0.65"/>
<text x="627.46" y="244" font-size="10.2" textLength="34.35" lengthAdjust="spacingAndGlyphs" fill="#2a2a2a" stroke-width="0.28">Control</text>
<circle cx="619.5" cy="253.2" r="2.88" fill="#000"/>
<text x="627.04" y="257" font-size="10.2" textLength="38.74" lengthAdjust="spacingAndGlyphs" fill="#2a2a2a" stroke-width="0.28">Invasion</text>
<rect x="617.46" y="263.16" width="4.08" height="4.08" fill="#fff" stroke="#000" stroke-width="0.65"/>
<text x="627.21" y="269" font-size="10.2" textLength="15.07" lengthAdjust="spacingAndGlyphs" fill="#2a2a2a" stroke-width="0.28">Net</text>
<rect x="617.13" y="275.13" width="4.73" height="4.73" fill="#000"/>
<text x="627.52" y="281" font-size="10.2" textLength="35.47" lengthAdjust="spacingAndGlyphs" fill="#2a2a2a" stroke-width="0.28">Striking</text>
<polygon points="619.5,286.39 622.81,289.7 619.5,293.01 616.19,289.7" fill="#fff" stroke="#000" stroke-width="0.65"/>
<text x="628.38" y="293" font-size="10.2" textLength="28.8" lengthAdjust="spacingAndGlyphs" fill="#2a2a2a" stroke-width="0.28">Target</text>
<polyline points="465.4,348.3 518.2,343.8 571.3,340.6" fill="none" stroke="#000" stroke-width="1.0"/>
<polyline points="467.3,367.1 520.5,309.9 573.3,276.6" fill="none" stroke="#000" stroke-width="1.0"/>
<polyline points="469.6,381.5 522.5,370.2 575.7,358.3" fill="none" stroke="#000" stroke-width="1.0"/>
<polyline points="471.6,377.5 524.4,349.0 577.7,316.9" fill="none" stroke="#000" stroke-width="1.0"/>
<polyline points="473.9,372.8 526.7,363.2 579.9,353.4" fill="none" stroke="#000" stroke-width="1.0"/>
<line x1="465.5" y1="344.5" x2="465.5" y2="351.5" stroke="#000" stroke-width="0.85"/>
<line x1="464.6" y1="344.5" x2="466.4" y2="344.5" stroke="#000" stroke-width="0.85"/>
<line x1="464.6" y1="351.5" x2="466.4" y2="351.5" stroke="#000" stroke-width="0.85"/>
<line x1="571.5" y1="336.5" x2="571.5" y2="344.5" stroke="#000" stroke-width="0.85"/>
<line x1="570.6" y1="336.5" x2="572.4" y2="336.5" stroke="#000" stroke-width="0.85"/>
<line x1="570.6" y1="344.5" x2="572.4" y2="344.5" stroke="#000" stroke-width="0.85"/>
<line x1="467.5" y1="348.5" x2="467.5" y2="385.5" stroke="#000" stroke-width="0.85"/>
<line x1="466.6" y1="348.5" x2="468.4" y2="348.5" stroke="#000" stroke-width="0.85"/>
<line x1="466.6" y1="385.5" x2="468.4" y2="385.5" stroke="#000" stroke-width="0.85"/>
<line x1="520.5" y1="303.5" x2="520.5" y2="316.5" stroke="#000" stroke-width="0.85"/>
<line x1="519.6" y1="303.5" x2="521.4" y2="303.5" stroke="#000" stroke-width="0.85"/>
<line x1="519.6" y1="316.5" x2="521.4" y2="316.5" stroke="#000" stroke-width="0.85"/>
<line x1="573.5" y1="262.5" x2="573.5" y2="290.5" stroke="#000" stroke-width="0.85"/>
<line x1="572.6" y1="262.5" x2="574.4" y2="262.5" stroke="#000" stroke-width="0.85"/>
<line x1="572.6" y1="290.5" x2="574.4" y2="290.5" stroke="#000" stroke-width="0.85"/>
<line x1="575.5" y1="352.5" x2="575.5" y2="363.5" stroke="#000" stroke-width="0.85"/>
<line x1="574.6" y1="352.5" x2="576.4" y2="352.5" stroke="#000" stroke-width="0.85"/>
<line x1="574.6" y1="363.5" x2="576.4" y2="363.5" stroke="#000" stroke-width="0.85"/>
<line x1="471.5" y1="365.5" x2="471.5" y2="389.5" stroke="#000" stroke-width="0.85"/>
<line x1="470.6" y1="365.5" x2="472.4" y2="365.5" stroke="#000" stroke-width="0.85"/>
<line x1="470.6" y1="389.5" x2="472.4" y2="389.5" stroke="#000" stroke-width="0.85"/>
<line x1="577.5" y1="304.5" x2="577.5" y2="329.5" stroke="#000" stroke-width="0.85"/>
<line x1="576.6" y1="304.5" x2="578.4" y2="304.5" stroke="#000" stroke-width="0.85"/>
<line x1="576.6" y1="329.5" x2="578.4" y2="329.5" stroke="#000" stroke-width="0.85"/>
<line x1="579.5" y1="345.5" x2="579.5" y2="361.5" stroke="#000" stroke-width="0.85"/>
<line x1="578.6" y1="345.5" x2="580.4" y2="345.5" stroke="#000" stroke-width="0.85"/>
<line x1="578.6" y1="361.5" x2="580.4" y2="361.5" stroke="#000" stroke-width="0.85"/>
<circle cx="465.4" cy="348.3" r="2.5" fill="#fff" stroke="#000" stroke-width="0.95"/>
<circle cx="518.2" cy="343.8" r="2.5" fill="#fff" stroke="#000" stroke-width="0.95"/>
<circle cx="571.3" cy="340.6" r="2.5" fill="#fff" stroke="#000" stroke-width="0.95"/>
<circle cx="467.3" cy="367.1" r="2.6" fill="#000"/>
<circle cx="520.5" cy="309.9" r="2.6" fill="#000"/>
<circle cx="573.3" cy="276.6" r="2.6" fill="#000"/>
<rect x="467.35" y="379.25" width="4.5" height="4.5" fill="#fff" stroke="#000" stroke-width="0.95"/>
<rect x="520.25" y="367.95" width="4.5" height="4.5" fill="#fff" stroke="#000" stroke-width="0.95"/>
<rect x="573.45" y="356.05" width="4.5" height="4.5" fill="#fff" stroke="#000" stroke-width="0.95"/>
<rect x="469.2" y="375.1" width="4.8" height="4.8" fill="#000"/>
<rect x="522.0" y="346.6" width="4.8" height="4.8" fill="#000"/>
<rect x="575.3" y="314.5" width="4.8" height="4.8" fill="#000"/>
<polygon points="473.9,369.55 477.15,372.8 473.9,376.05 470.65,372.8" fill="#fff" stroke="#000" stroke-width="0.95"/>
<polygon points="526.7,359.95 529.95,363.2 526.7,366.45 523.45,363.2" fill="#fff" stroke="#000" stroke-width="0.95"/>
<polygon points="579.9,350.15 583.15,353.4 579.9,356.65 576.65,353.4" fill="#fff" stroke="#000" stroke-width="0.95"/>
</svg>
</body></html>
